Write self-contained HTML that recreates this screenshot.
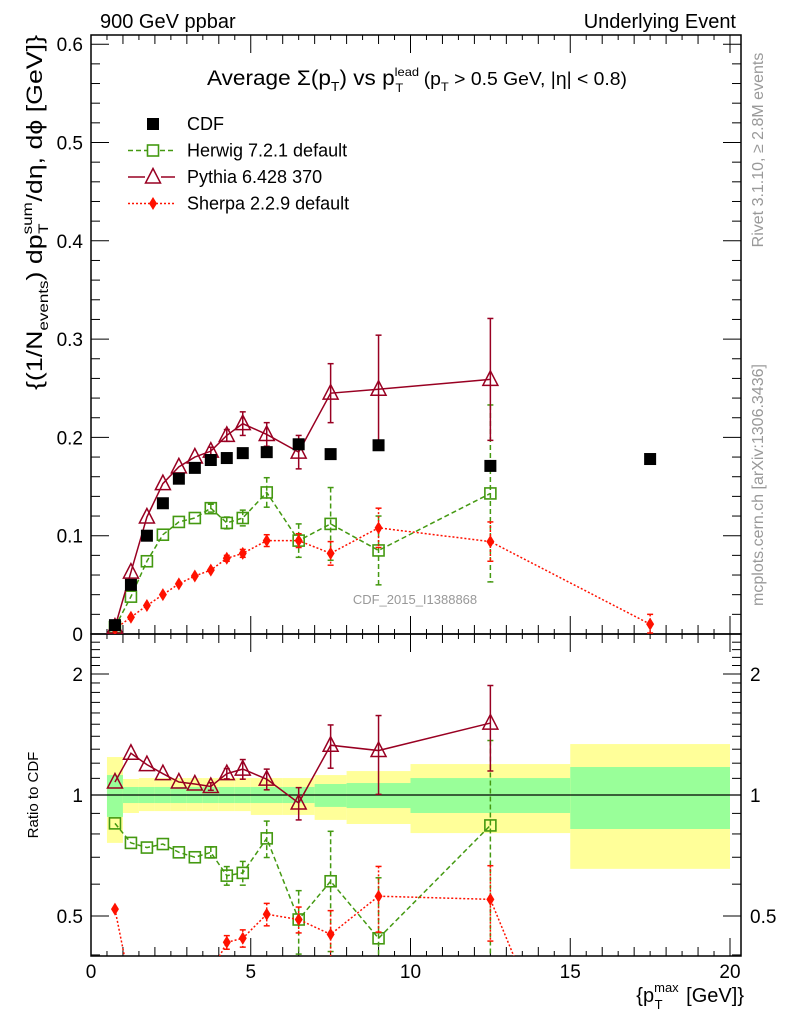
<!DOCTYPE html>
<html><head><meta charset="utf-8"><style>
html,body{margin:0;padding:0;background:#fff;overflow:hidden;width:786px;height:1024px}
svg{display:block;font-family:"Liberation Sans",sans-serif}
</style></head><body>
<svg id="c" width="786" height="1024" viewBox="0 0 786 1024" xmlns="http://www.w3.org/2000/svg">
<g id="bands"></g><g id="axes"></g><g id="series"></g>
<text x="100" y="28" font-size="20">900 GeV ppbar</text>
<text x="736" y="28" font-size="20" text-anchor="end">Underlying Event</text>
<text x="207" y="85" font-size="21" textLength="420" lengthAdjust="spacingAndGlyphs">Average Σ(p<tspan font-size="13" dy="6">T</tspan><tspan dy="-6">) vs p</tspan><tspan font-size="12" dy="-9">lead</tspan><tspan font-size="12" dx="-22" dy="16">T</tspan><tspan font-size="18" dx="14" dy="-7"> (p</tspan><tspan font-size="12" dy="6">T</tspan><tspan font-size="18" dy="-6"> &gt; 0.5 GeV, |η| &lt; 0.8)</tspan></text>
<text x="415" y="604" font-size="13" fill="#999" text-anchor="middle">CDF_2015_I1388868</text>
<text transform="translate(763,150) rotate(-90)" font-size="16" fill="#999" text-anchor="middle">Rivet 3.1.10, ≥ 2.8M events</text>
<text transform="translate(763,485) rotate(-90)" font-size="16" fill="#999" text-anchor="middle">mcplots.cern.ch [arXiv:1306.3436]</text>
<text transform="translate(42,390) rotate(-90)" font-size="22" textLength="355" lengthAdjust="spacingAndGlyphs">{(1/N<tspan font-size="14" dy="6">events</tspan><tspan dy="-6">) dp</tspan><tspan font-size="14" dy="-10">sum</tspan><tspan font-size="14" dx="-26" dy="16">T</tspan><tspan dx="18" dy="-6">/dη, dϕ [GeV]}</tspan></text>
<text transform="translate(38,795) rotate(-90)" font-size="15" text-anchor="middle">Ratio to CDF</text>
<text x="744" y="1002" font-size="20" text-anchor="end">{p<tspan font-size="13" dy="-10">max</tspan><tspan font-size="13" dx="-24" dy="17">T</tspan><tspan dx="18" dy="-7"> [GeV]}</tspan></text>
<g id="legend"></g>
</svg>
<script>
const xBins=[0.75,1.25,1.75,2.25,2.75,3.25,3.75,4.25,4.75,5.5,6.5,7.5,9,12.5,17.5];
const cdfVals=[0.009,0.050,0.100,0.133,0.158,0.169,0.177,0.179,0.184,0.185,0.193,0.183,0.192,0.171,0.178];
const herwigVals=[0.007,0.038,0.074,0.101,0.114,0.118,0.128,0.113,0.118,0.144,0.095,0.112,0.085,0.143,null];
const herwigErr=[0,0,0,0,0,0,0.004,0.006,0.008,0.015,0.017,0.037,0.035,0.09,0];
const pythiaVals=[0.007,0.063,0.119,0.153,0.170,0.180,0.186,0.202,0.214,0.203,0.185,0.245,0.249,0.259,null];
const pythiaErr=[0,0,0,0,0,0,0.004,0.006,0.012,0.012,0.017,0.03,0.055,0.062,0];
const sherpaVals=[0.005,0.017,0.029,0.040,0.051,0.059,0.065,0.077,0.082,0.095,0.095,0.082,0.108,0.094,0.010];
const sherpaErr=[0,0,0,0,0,0,0,0.003,0.004,0.006,0.007,0.012,0.02,0.02,0.01];
const pythiaRatio=[1.077,1.27,1.19,1.13,1.077,1.065,1.05,1.13,1.16,1.095,0.955,1.33,1.29,1.51,null];
const herwigRatio=[0.85,0.76,0.74,0.755,0.72,0.70,0.72,0.63,0.64,0.78,0.49,0.61,0.44,0.84,null];
const sherpaRatio=[0.52,0.33,0.3,0.3,0.3,0.33,0.36,0.43,0.44,0.505,0.49,0.45,0.56,0.55,0.06];
const binEdges=[0.5,1,1.5,2,2.5,3,3.5,4,4.5,5,6,7,8,10,15,20];
const greenHi=[1.121,1.047,1.047,1.047,1.047,1.047,1.047,1.047,1.047,1.047,1.047,1.065,1.071,1.102,1.174];
const greenLo=[0.882,0.955,0.955,0.955,0.955,0.955,0.955,0.955,0.955,0.955,0.955,0.934,0.928,0.902,0.823];
const yellowHi=[1.243,1.096,1.102,1.102,1.102,1.102,1.102,1.102,1.102,1.102,1.102,1.121,1.147,1.194,1.339];
const yellowLo=[0.760,0.902,0.912,0.912,0.912,0.912,0.912,0.912,0.912,0.892,0.892,0.867,0.847,0.804,0.655];
const xTicks=[0,5,10,15,20];
const yTicks=[0,0.1,0.2,0.3,0.4,0.5,0.6];
const rTicks=[0.5,1,2];

const NS="http://www.w3.org/2000/svg";
const L=91,R=741,T=35,MB=634,RB=956;
const X=v=>L+v*31.95;
const Y=v=>MB-v*983;
const RY=r=>795-401.9*Math.log10(r);
function el(tag,attrs,parent){const e=document.createElementNS(NS,tag);for(const k in attrs)e.setAttribute(k,attrs[k]);parent.appendChild(e);return e;}
const bands=document.getElementById('bands'),axes=document.getElementById('axes'),series=document.getElementById('series'),legend=document.getElementById('legend');

const defs=el('defs',{},document.getElementById('c'));
const cp=el('clipPath',{id:'rclip'},defs);el('rect',{x:L,y:MB,width:R-L,height:RB-MB},cp);
const cpm=el('clipPath',{id:'mclip'},defs);el('rect',{x:L,y:T,width:R-L,height:MB-T},cpm);

for(let i=0;i<greenHi.length;i++){
  const x0=X(binEdges[i]),x1=X(binEdges[i+1]);
  const yb=el('rect',{x:x0,y:RY(yellowHi[i]),width:x1-x0,height:RY(yellowLo[i])-RY(yellowHi[i]),fill:'#ffff99'},bands);
  
  
  const gb=el('rect',{x:x0,y:RY(greenHi[i]),width:x1-x0,height:RY(greenLo[i])-RY(greenHi[i]),fill:'#99ff99'},bands);
  
  
}
el('line',{x1:L,x2:R,y1:RY(1),y2:RY(1),stroke:'#000','stroke-width':1.2},bands);

el('rect',{x:L,y:T,width:R-L,height:MB-T,fill:'none',stroke:'#000','stroke-width':1.5},axes);
el('rect',{x:L,y:MB,width:R-L,height:RB-MB,fill:'none',stroke:'#000','stroke-width':1.5},axes);
for(let v=0;v<=20.3;v+=0.5){
  const maj=Math.abs(v%5)<1e-6, mid=Math.abs(v%1)<1e-6;
  const len=maj?18:(mid?9:5);
  el('line',{x1:X(v),x2:X(v),y1:MB,y2:MB-len,stroke:'#000'},axes);
  el('line',{x1:X(v),x2:X(v),y1:T,y2:T+len,stroke:'#000'},axes);
  el('line',{x1:X(v),x2:X(v),y1:RB,y2:RB-len,stroke:'#000'},axes);
  el('line',{x1:X(v),x2:X(v),y1:MB,y2:MB+len,stroke:'#000'},axes);
}
xTicks.forEach(v=>{const t=el('text',{x:X(v),y:978,'font-size':19,'text-anchor':'middle'},axes);t.textContent=v;

});
for(let v=0;v<=0.6001;v+=0.02){const maj=Math.abs(v*10-Math.round(v*10))<1e-6;const len=maj?18:9;
  el('line',{x1:L,x2:L+len,y1:Y(v),y2:Y(v),stroke:'#000'},axes);el('line',{x1:R,x2:R-len,y1:Y(v),y2:Y(v),stroke:'#000'},axes);}
yTicks.forEach(v=>{const t=el('text',{x:83,y:Y(v)+7,'font-size':19,'text-anchor':'end'},axes);t.textContent=v===0?'0':v.toFixed(1);

});
for(let r=0.4;r<=2.5;r+=0.1){const maj=rTicks.some(m=>Math.abs(m-r)<1e-6);const len=maj?18:9;
  el('line',{x1:L,x2:L+len,y1:RY(r),y2:RY(r),stroke:'#000'},axes);el('line',{x1:R,x2:R-len,y1:RY(r),y2:RY(r),stroke:'#000'},axes);}
rTicks.forEach(r=>{const lab=r===1?'1':String(r);
  const t=el('text',{x:83,y:RY(r)+7,'font-size':19,'text-anchor':'end'},axes);t.textContent=lab;
  
  
  const t2=el('text',{x:750,y:RY(r)+7,'font-size':19},axes);t2.textContent=lab;
  
  });

function marker(type,x,y,col,g){
  if(type==='sq')return el('rect',{x:x-6,y:y-6,width:12,height:12,fill:'#000'},g);
  if(type==='osq')return el('rect',{x:x-5.5,y:y-5.5,width:11,height:11,fill:'none',stroke:col,'stroke-width':1.6},g);
  if(type==='tri')return el('polygon',{points:`${x},${y-8.5} ${x-7.5},${y+6} ${x+7.5},${y+6}`,fill:'none',stroke:col,'stroke-width':1.5},g);
  if(type==='dia')return el('polygon',{points:`${x},${y-6.5} ${x+4},${y} ${x},${y+6.5} ${x-4},${y}`,fill:col},g);
}
function drawSeries(vals,err,yf,col,dash,mk,name,clip){
  const g=el('g',{'clip-path':`url(#${clip})`},series);
  
  
  const pts=[];vals.forEach((v,i)=>{if(v!==null)pts.push([X(xBins[i]),yf(v)]);});
  if(col)el('polyline',{points:pts.map(p=>p.join(',')).join(' '),fill:'none',stroke:col,'stroke-width':1.5,'stroke-dasharray':dash},g);
  vals.forEach((v,i)=>{if(v===null)return;const x=X(xBins[i]);
    if(err&&err[i]>0){const y1=yf(v+err[i]),y2=yf(Math.max(v-err[i],0.001));
      el('line',{x1:x,x2:x,y1:y1,y2:y2,stroke:col,'stroke-width':1.5,'stroke-dasharray':dash},g);
      el('line',{x1:x-3,x2:x+3,y1:y1,y2:y1,stroke:col,'stroke-width':1.5},g);el('line',{x1:x-3,x2:x+3,y1:y2,y2:y2,stroke:col,'stroke-width':1.5},g);}
    const m=marker(mk,x,yf(v),col||'#000',g);
    
    });
}
const GR='#449911',PY='#990022',SH='#ff1100';
drawSeries(herwigVals,herwigErr,Y,GR,'5,3','osq','herwig-series','mclip');
drawSeries(pythiaVals,pythiaErr,Y,PY,'','tri','pythia-series','mclip');
drawSeries(sherpaVals,sherpaErr,Y,SH,'2,2','dia','sherpa-series','mclip');
drawSeries(cdfVals,null,Y,null,'','sq','cdf-series','mclip');
const rErrH=herwigErr.map((e,i)=>cdfVals[i]?e/cdfVals[i]:0);
const rErrP=pythiaErr.map((e,i)=>cdfVals[i]?e/cdfVals[i]:0);
const rErrS=sherpaErr.map((e,i)=>cdfVals[i]?e/cdfVals[i]:0);
drawSeries(herwigRatio,rErrH,RY,GR,'5,3','osq','herwig-ratio','rclip');
drawSeries(pythiaRatio,rErrP,RY,PY,'','tri','pythia-ratio','rclip');
drawSeries(sherpaRatio,rErrS,RY,SH,'2,2','dia','sherpa-ratio','rclip');

const legNames=['CDF','Herwig 7.2.1 default','Pythia 6.428 370','Sherpa 2.2.9 default'];
const legStyle=[[null,'','sq'],[GR,'5,3','osq'],[PY,'','tri'],[SH,'2,2','dia']];
legNames.forEach((n,i)=>{const y=124+i*26.5;
  const g=el('g',{},legend);
  
  
  const [c,d,m]=legStyle[i];
  if(c)el('line',{x1:128,x2:175,y1:y,y2:y,stroke:c,'stroke-width':1.5,'stroke-dasharray':d},g);
  if(c&&m==='osq')el('rect',{x:147,y:y-6,width:12,height:12,fill:'#fff'},g);
  if(c&&m==='tri')el('rect',{x:145,y:y-9,width:16,height:16,fill:'#fff'},g);
  marker(m==='sq'?'sq':m,153,y,c||'#000',g);
  const t=el('text',{x:187,y:y+6,'font-size':18},g);t.textContent=n;});
</script>
</body></html>
